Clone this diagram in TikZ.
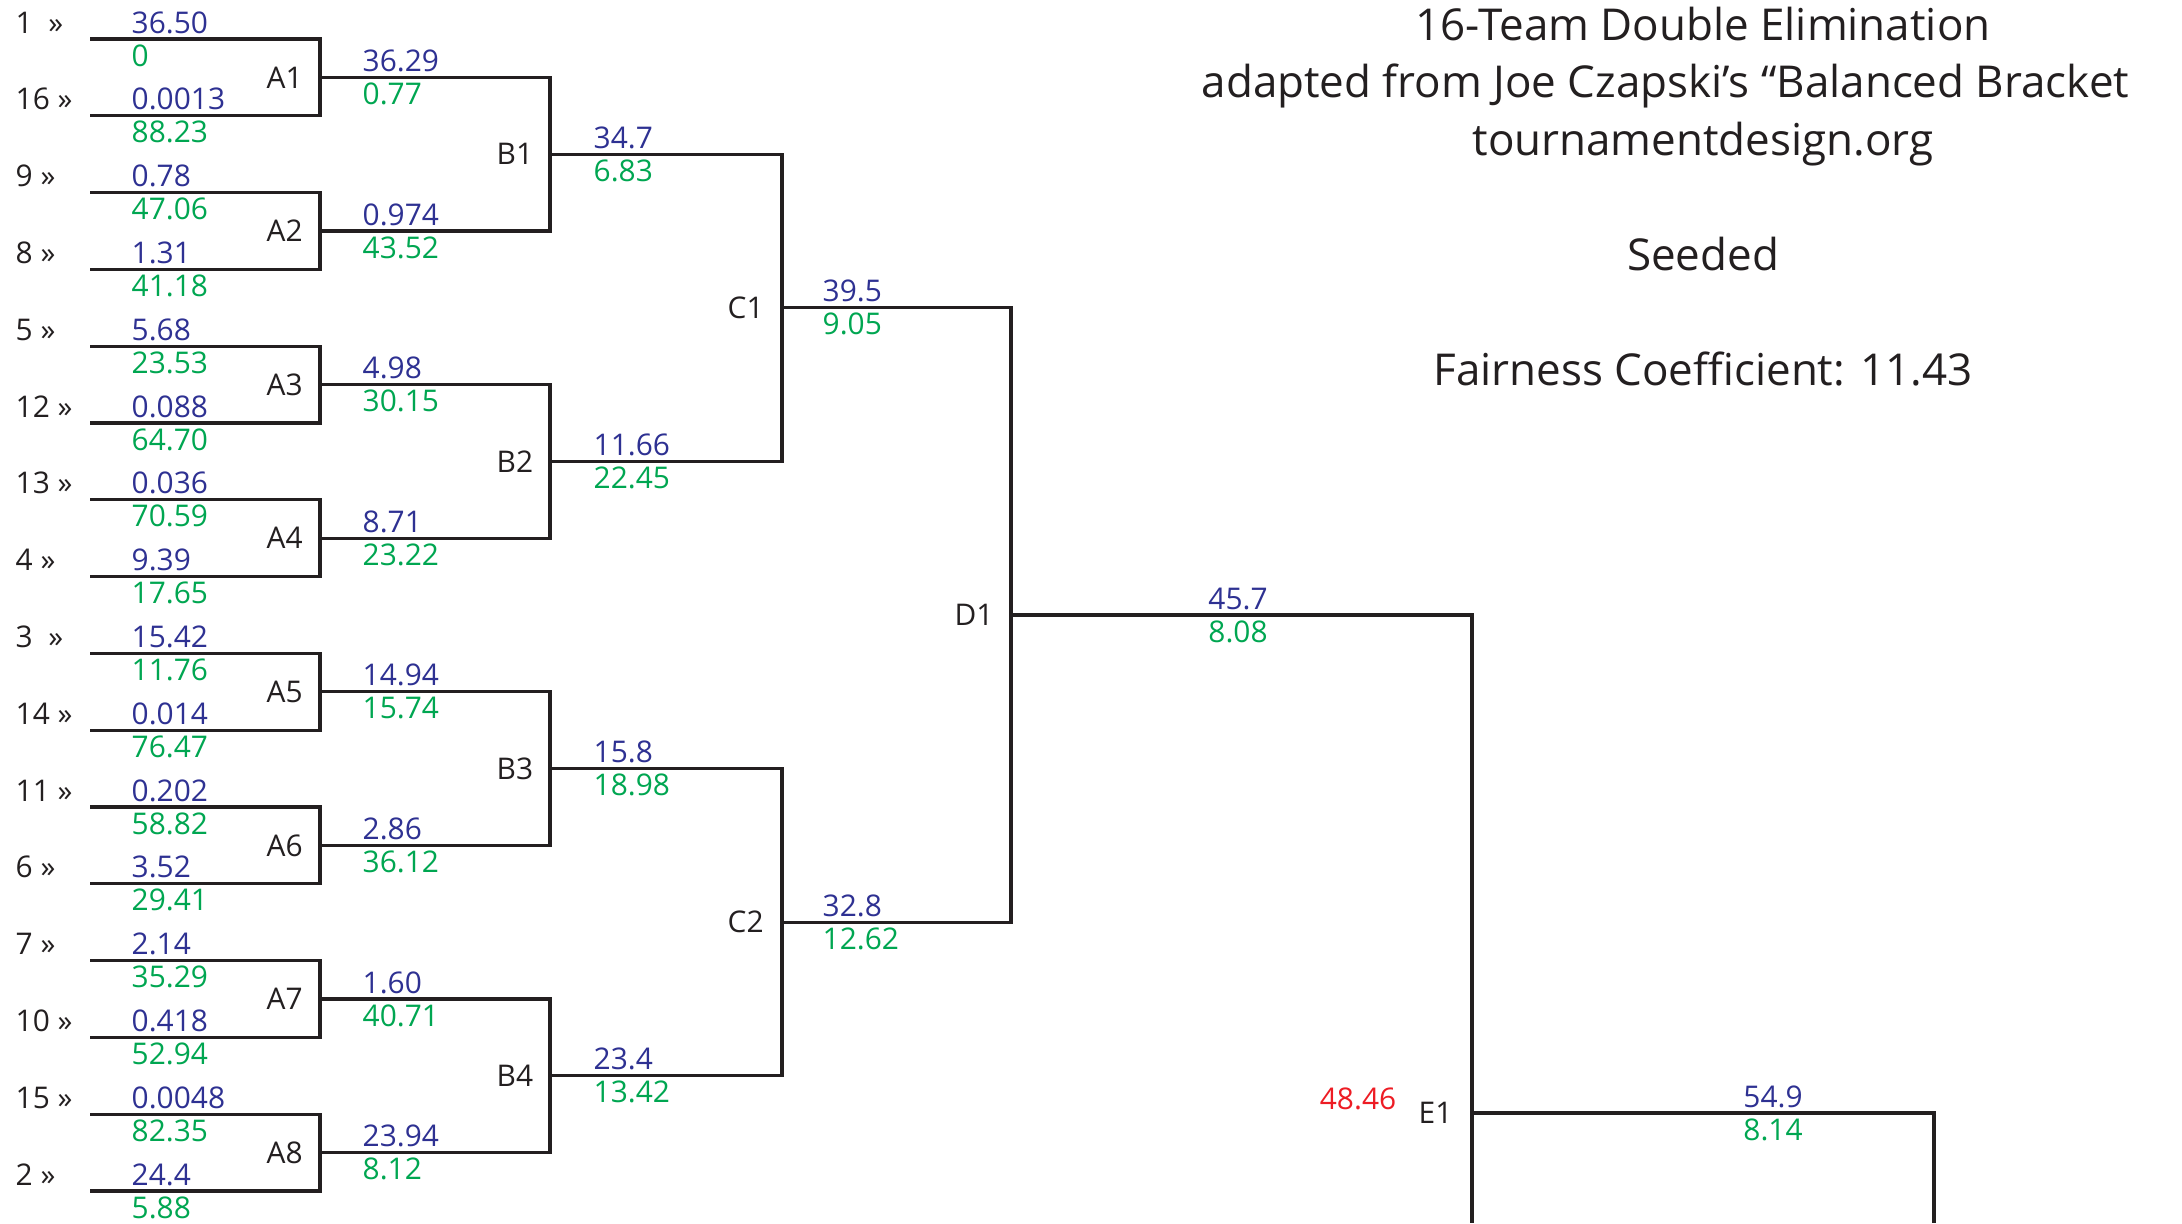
\documentclass[tikz,border=0pt]{standalone}
\usepackage{fontspec}
\setmainfont{Open Sans}
\usepackage{xcolor}
\usepackage{tikz}

\definecolor{ink}{RGB}{35,31,32}
\definecolor{valblue}{RGB}{46,49,146}
\definecolor{valgreen}{RGB}{0,166,81}
\definecolor{valred}{RGB}{237,28,36}

\begin{document}
\begin{tikzpicture}[
    bracket/.style={
        draw=ink,
        line width=0.9pt
    },
    seed/.style={
        anchor=base west,
        inner sep=0pt,
        text=ink,
        font=\fontsize{8.5pt}{10pt}\selectfont
    },
    hival/.style={
        anchor=base west,
        inner sep=0pt,
        text=valblue,
        font=\fontsize{8.5pt}{10pt}\selectfont
    },
    loval/.style={
        anchor=base west,
        inner sep=0pt,
        text=valgreen,
        font=\fontsize{8.5pt}{10pt}\selectfont
    },
    match/.style={
        anchor=west,
        inner sep=0pt,
        text=ink,
        font=\fontsize{8.5pt}{10pt}\selectfont
    },
    title/.style={
        anchor=base,
        inner sep=0pt,
        text=ink,
        font=\fontsize{12.5pt}{15pt}\selectfont
    }
]

\useasboundingbox (0,0) rectangle (21.82,-12.23);
\clip (0,0) rectangle (21.82,-12.23);

% Title block
\node[title] (head) at (17.03,-0.40) {16-Team Double Elimination};
\node[title, anchor=base west] (credit) at (12.01,-0.97) {adapted from Joe Czapski’s “Balanced Bracket};
\node[title] (site) at (17.03,-1.55) {tournamentdesign.org};
\node[title] (mode) at (17.03,-2.70) {Seeded};
\node[title] (fair) at (17.03,-3.85) {Fairness Coefficient: 11.43};

% Seed lines
\coordinate (s1)  at (0.90,-0.390);
\coordinate (s16) at (0.90,-1.158);
\coordinate (s9)  at (0.90,-1.926);
\coordinate (s8)  at (0.90,-2.694);
\coordinate (s5)  at (0.90,-3.462);
\coordinate (s12) at (0.90,-4.230);
\coordinate (s13) at (0.90,-4.998);
\coordinate (s4)  at (0.90,-5.766);
\coordinate (s3)  at (0.90,-6.534);
\coordinate (s14) at (0.90,-7.302);
\coordinate (s11) at (0.90,-8.070);
\coordinate (s6)  at (0.90,-8.838);
\coordinate (s7)  at (0.90,-9.606);
\coordinate (s10) at (0.90,-10.374);
\coordinate (s15) at (0.90,-11.142);
\coordinate (s2)  at (0.90,-11.910);

% Match junctions
\coordinate (jA1) at (3.20,-0.774);
\coordinate (jA2) at (3.20,-2.310);
\coordinate (jA3) at (3.20,-3.846);
\coordinate (jA4) at (3.20,-5.382);
\coordinate (jA5) at (3.20,-6.918);
\coordinate (jA6) at (3.20,-8.454);
\coordinate (jA7) at (3.20,-9.990);
\coordinate (jA8) at (3.20,-11.526);

\coordinate (jB1) at (5.50,-1.542);
\coordinate (jB2) at (5.50,-4.614);
\coordinate (jB3) at (5.50,-7.686);
\coordinate (jB4) at (5.50,-10.758);

\coordinate (jC1) at (7.82,-3.078);
\coordinate (jC2) at (7.82,-9.222);

\coordinate (jD1) at (10.11,-6.150);
\coordinate (jE1) at (14.72,-11.130);

\coordinate (ebot) at (14.72,-12.23);
\coordinate (fbot) at (19.34,-12.23);

% Seeds
\node[seed] (seed1)  at (0.15,-0.330) {1~~»};
\node[seed] (seed16) at (0.15,-1.098) {16 »};
\node[seed] (seed9)  at (0.15,-1.866) {9 »};
\node[seed] (seed8)  at (0.15,-2.634) {8 »};
\node[seed] (seed5)  at (0.15,-3.402) {5 »};
\node[seed] (seed12) at (0.15,-4.170) {12 »};
\node[seed] (seed13) at (0.15,-4.938) {13 »};
\node[seed] (seed4)  at (0.15,-5.706) {4 »};
\node[seed] (seed3)  at (0.15,-6.474) {3~~»};
\node[seed] (seed14) at (0.15,-7.242) {14 »};
\node[seed] (seed11) at (0.15,-8.010) {11 »};
\node[seed] (seed6)  at (0.15,-8.778) {6 »};
\node[seed] (seed7)  at (0.15,-9.546) {7 »};
\node[seed] (seed10) at (0.15,-10.314) {10 »};
\node[seed] (seed15) at (0.15,-11.082) {15 »};
\node[seed] (seed2)  at (0.15,-11.850) {2 »};

% Seed values
\node[hival] (hi1)  at (1.31,-0.330) {36.50};
\node[loval] (lo1)  at (1.31,-0.660) {0};
\node[hival] (hi16) at (1.31,-1.098) {0.0013};
\node[loval] (lo16) at (1.31,-1.428) {88.23};
\node[hival] (hi9)  at (1.31,-1.866) {0.78};
\node[loval] (lo9)  at (1.31,-2.196) {47.06};
\node[hival] (hi8)  at (1.31,-2.634) {1.31};
\node[loval] (lo8)  at (1.31,-2.964) {41.18};
\node[hival] (hi5)  at (1.31,-3.402) {5.68};
\node[loval] (lo5)  at (1.31,-3.732) {23.53};
\node[hival] (hi12) at (1.31,-4.170) {0.088};
\node[loval] (lo12) at (1.31,-4.500) {64.70};
\node[hival] (hi13) at (1.31,-4.938) {0.036};
\node[loval] (lo13) at (1.31,-5.268) {70.59};
\node[hival] (hi4)  at (1.31,-5.706) {9.39};
\node[loval] (lo4)  at (1.31,-6.036) {17.65};
\node[hival] (hi3)  at (1.31,-6.474) {15.42};
\node[loval] (lo3)  at (1.31,-6.804) {11.76};
\node[hival] (hi14) at (1.31,-7.242) {0.014};
\node[loval] (lo14) at (1.31,-7.572) {76.47};
\node[hival] (hi11) at (1.31,-8.010) {0.202};
\node[loval] (lo11) at (1.31,-8.340) {58.82};
\node[hival] (hi6)  at (1.31,-8.778) {3.52};
\node[loval] (lo6)  at (1.31,-9.108) {29.41};
\node[hival] (hi7)  at (1.31,-9.546) {2.14};
\node[loval] (lo7)  at (1.31,-9.876) {35.29};
\node[hival] (hi10) at (1.31,-10.314) {0.418};
\node[loval] (lo10) at (1.31,-10.644) {52.94};
\node[hival] (hi15) at (1.31,-11.082) {0.0048};
\node[loval] (lo15) at (1.31,-11.412) {82.35};
\node[hival] (hi2)  at (1.31,-11.850) {24.4};
\node[loval] (lo2)  at (1.31,-12.180) {5.88};

% Round A
\node[match] (A1) at (2.66,-0.774) {A1};
\node[match] (A2) at (2.66,-2.310) {A2};
\node[match] (A3) at (2.66,-3.846) {A3};
\node[match] (A4) at (2.66,-5.382) {A4};
\node[match] (A5) at (2.66,-6.918) {A5};
\node[match] (A6) at (2.66,-8.454) {A6};
\node[match] (A7) at (2.66,-9.990) {A7};
\node[match] (A8) at (2.66,-11.526) {A8};

\node[hival] (hiA1) at (3.62,-0.714) {36.29};
\node[loval] (loA1) at (3.62,-1.044) {0.77};
\node[hival] (hiA2) at (3.62,-2.250) {0.974};
\node[loval] (loA2) at (3.62,-2.580) {43.52};
\node[hival] (hiA3) at (3.62,-3.786) {4.98};
\node[loval] (loA3) at (3.62,-4.116) {30.15};
\node[hival] (hiA4) at (3.62,-5.322) {8.71};
\node[loval] (loA4) at (3.62,-5.652) {23.22};
\node[hival] (hiA5) at (3.62,-6.858) {14.94};
\node[loval] (loA5) at (3.62,-7.188) {15.74};
\node[hival] (hiA6) at (3.62,-8.394) {2.86};
\node[loval] (loA6) at (3.62,-8.724) {36.12};
\node[hival] (hiA7) at (3.62,-9.930) {1.60};
\node[loval] (loA7) at (3.62,-10.260) {40.71};
\node[hival] (hiA8) at (3.62,-11.466) {23.94};
\node[loval] (loA8) at (3.62,-11.796) {8.12};

% Round B
\node[match] (B1) at (4.96,-1.542) {B1};
\node[match] (B2) at (4.96,-4.614) {B2};
\node[match] (B3) at (4.96,-7.686) {B3};
\node[match] (B4) at (4.96,-10.758) {B4};

\node[hival] (hiB1) at (5.93,-1.482) {34.7};
\node[loval] (loB1) at (5.93,-1.812) {6.83};
\node[hival] (hiB2) at (5.93,-4.554) {11.66};
\node[loval] (loB2) at (5.93,-4.884) {22.45};
\node[hival] (hiB3) at (5.93,-7.626) {15.8};
\node[loval] (loB3) at (5.93,-7.956) {18.98};
\node[hival] (hiB4) at (5.93,-10.698) {23.4};
\node[loval] (loB4) at (5.93,-11.028) {13.42};

% Round C
\node[match] (C1) at (7.27,-3.078) {C1};
\node[match] (C2) at (7.27,-9.222) {C2};

\node[hival] (hiC1) at (8.22,-3.018) {39.5};
\node[loval] (loC1) at (8.22,-3.348) {9.05};
\node[hival] (hiC2) at (8.22,-9.162) {32.8};
\node[loval] (loC2) at (8.22,-9.492) {12.62};

% Round D
\node[match] (D1) at (9.54,-6.150) {D1};
\node[hival, anchor=base] (hiD1) at (12.38,-6.090) {45.7};
\node[loval, anchor=base] (loD1) at (12.38,-6.420) {8.08};

% Round E
\node[match] (E1) at (14.18,-11.130) {E1};
\node[hival, text=valred, anchor=base] (redE1) at (13.58,-11.090) {48.46};
\node[hival, anchor=base] (hiE1) at (17.73,-11.070) {54.9};
\node[loval, anchor=base] (loE1) at (17.73,-11.400) {8.14};

% Bracket lines
\draw[bracket] (s1)  -| (jA1) |- (s16);
\draw[bracket] (s9)  -| (jA2) |- (s8);
\draw[bracket] (s5)  -| (jA3) |- (s12);
\draw[bracket] (s13) -| (jA4) |- (s4);
\draw[bracket] (s3)  -| (jA5) |- (s14);
\draw[bracket] (s11) -| (jA6) |- (s6);
\draw[bracket] (s7)  -| (jA7) |- (s10);
\draw[bracket] (s15) -| (jA8) |- (s2);

\draw[bracket] (jA1) -| (jB1) |- (jA2);
\draw[bracket] (jA3) -| (jB2) |- (jA4);
\draw[bracket] (jA5) -| (jB3) |- (jA6);
\draw[bracket] (jA7) -| (jB4) |- (jA8);

\draw[bracket] (jB1) -| (jC1) |- (jB2);
\draw[bracket] (jB3) -| (jC2) |- (jB4);

\draw[bracket] (jC1) -| (jD1) |- (jC2);

\draw[bracket] (jD1) -| (jE1) -- (ebot);
\draw[bracket] (jE1) -| (fbot);

\end{tikzpicture}
\end{document}
